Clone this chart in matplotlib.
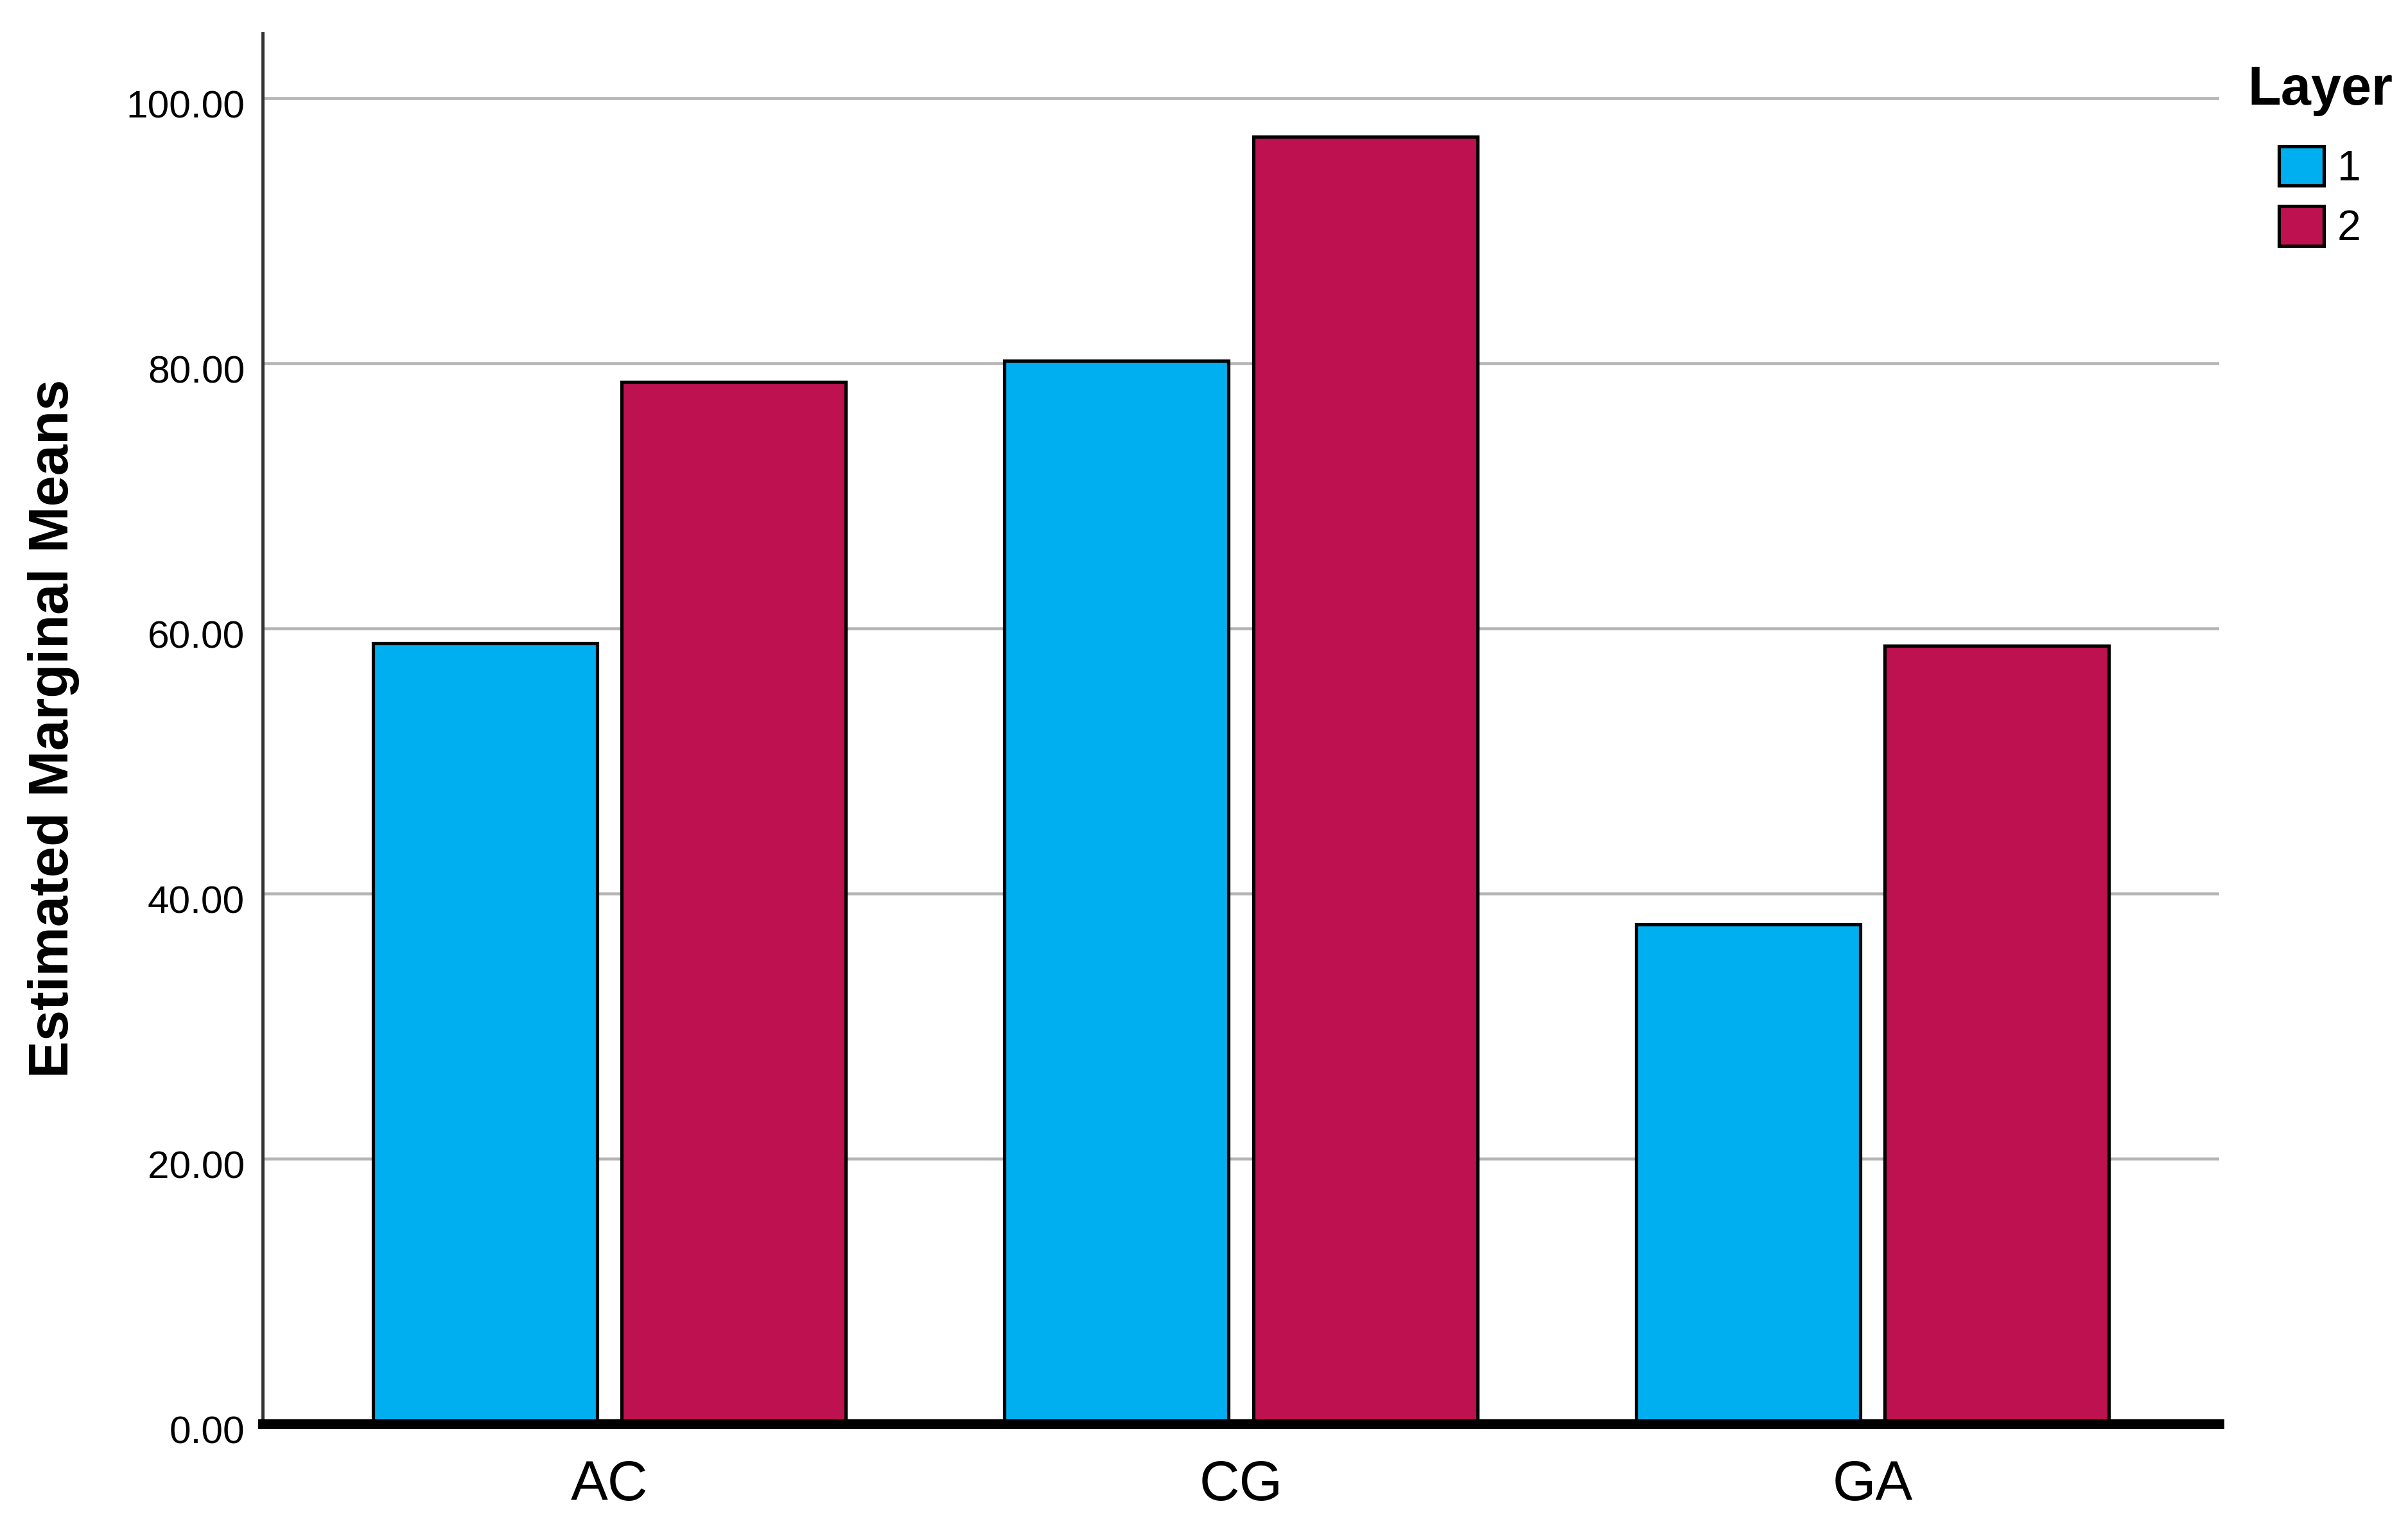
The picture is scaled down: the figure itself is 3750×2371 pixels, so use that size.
import matplotlib
matplotlib.use("Agg")
import matplotlib.pyplot as plt
import matplotlib.transforms as mtransforms
from matplotlib.patches import Patch
import numpy as np

categories = ["AC", "CG", "GA"]
layer_labels = ["1", "2"]
layer1 = [58.9, 80.2, 37.7]
layer2 = [78.6, 97.1, 58.7]
yticks = [0, 20, 40, 60, 80, 100]

colors = ["#00AFF0", "#BE1250"]

plt.rcParams["font.family"] = ["Liberation Sans", "DejaVu Sans"]

fig = plt.figure(figsize=(15, 2371 / 250), dpi=250)
ax = fig.add_axes([409 / 3750, 1 - 2218 / 2371, (3456 - 409) / 3750, (2218 - 52) / 2371])

x = np.arange(len(categories))
w = 0.355
off = 0.197
ax.bar(x - off, layer1, width=w, color=colors[0], edgecolor="black", linewidth=1.5, zorder=2)
ax.bar(x + off, layer2, width=w, color=colors[1], edgecolor="black", linewidth=1.5, zorder=2)

ax.set_xlim(-0.549, 2.549)
ax.set_ylim(0, 104.9)

ax.set_yticks(yticks)
ax.set_yticklabels([f"{v:.2f}" for v in yticks])
ax.set_xticks(x)
ax.set_xticklabels(categories)

ax.yaxis.grid(True, color="#b4b4b4", linewidth=1.3, zorder=0)
ax.set_axisbelow(True)

for s in ["top", "right"]:
    ax.spines[s].set_visible(False)
ax.spines["left"].set_color("#333333")
ax.spines["left"].set_linewidth(1.4)
ax.spines["bottom"].set_color("black")
ax.spines["bottom"].set_linewidth(4.3)
ax.spines["bottom"].set_zorder(3)

ax.tick_params(axis="y", length=0, pad=8, labelsize=17.4, labelcolor="black")
ax.tick_params(axis="x", length=0, pad=16, labelsize=25, labelcolor="black")

shift = mtransforms.ScaledTranslation(0, -9 / 250, fig.dpi_scale_trans)
for lab in ax.get_yticklabels():
    lab.set_transform(lab.get_transform() + shift)

ax.set_ylabel("Estimated Marginal Means", fontsize=25, fontweight="bold")
ax.yaxis.label.set_va("center")
ax.yaxis.set_label_coords((84 - 409) / 3047, 0.5)

handles = [Patch(facecolor=c, edgecolor="black", linewidth=1.5) for c in colors]
leg = fig.legend(handles, layer_labels, title="Layer", loc="upper center",
                 bbox_to_anchor=(3613 / 3750, 1 - 68 / 2371), frameon=False,
                 borderpad=0, handlelength=1.05, handleheight=1.05,
                 handletextpad=0.32, labelspacing=0.4, fontsize=19,
                 title_fontproperties={"weight": "bold", "size": 24.4})
leg._legend_box.sep = 13.5

fig.savefig("out.png", dpi=250, facecolor="white")
